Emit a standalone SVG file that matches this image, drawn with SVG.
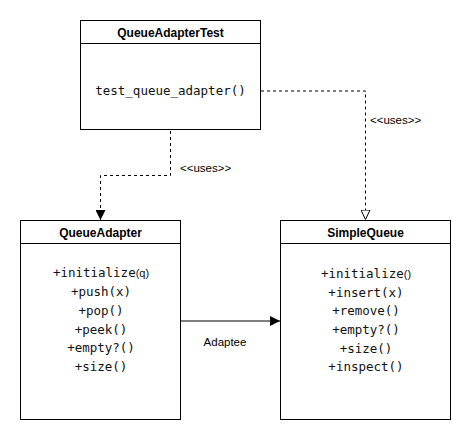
<svg xmlns="http://www.w3.org/2000/svg" width="472" height="442" viewBox="0 0 472 442">
<style>
.box{fill:#fff;stroke:#000;stroke-width:1}
.title{font-family:"Liberation Sans",Arial,sans-serif;font-size:12px;font-weight:bold;text-anchor:middle;fill:#000}
.m{font-family:"DejaVu Sans Mono","Liberation Mono",monospace;font-size:12.5px;text-anchor:middle;fill:#111}
.s{font-family:"Liberation Sans",Arial,sans-serif;font-size:11px}
.lbl{font-family:"Liberation Sans",Arial,sans-serif;font-size:11.5px;fill:#000}
.dash{fill:none;stroke:#000;stroke-width:1;stroke-dasharray:3 3}
.solid{fill:none;stroke:#000;stroke-width:1}
</style>
<defs>
<marker id="fill" viewBox="0 0 10 10" refX="10" refY="5" markerWidth="10" markerHeight="10" markerUnits="userSpaceOnUse" orient="auto"><path d="M0,0 L10,5 L0,10 Z" fill="#000"/></marker>
<marker id="open" viewBox="0 0 10 10" refX="10" refY="5" markerWidth="10" markerHeight="10" markerUnits="userSpaceOnUse" orient="auto"><path d="M0,0.5 L9.5,5 L0,9.5 Z" fill="#fff" stroke="#000"/></marker>
</defs>
<rect width="472" height="442" fill="#fff"/>
<g id="connectors">
<path class="dash" d="M261,91 H365.5 V220" marker-end="url(#open)"/>
<path class="dash" d="M170.5,131 V175.5 H100.5 V220" marker-end="url(#fill)"/>
<path class="solid" d="M181,321 H280" marker-end="url(#fill)"/>
<text class="lbl" x="370" y="124">&lt;&lt;uses&gt;&gt;</text>
<text class="lbl" x="180" y="172">&lt;&lt;uses&gt;&gt;</text>
<text class="lbl" x="225" y="346" text-anchor="middle">Adaptee</text>
</g>
<g id="QueueAdapterTest">
<rect class="box" x="80.5" y="20.5" width="180" height="109"/>
<line class="solid" x1="80.5" y1="43.5" x2="260.5" y2="43.5"/>
<text class="title" x="170.5" y="37">QueueAdapterTest</text>
<text class="m" x="170.5" y="95">test_queue_adapter()</text>
</g>
<g id="QueueAdapter">
<rect class="box" x="20.5" y="220.5" width="160" height="199"/>
<line class="solid" x1="20.5" y1="243.5" x2="180.5" y2="243.5"/>
<text class="title" x="100.5" y="237">QueueAdapter</text>
<text class="m" x="101" y="277">+initialize<tspan class="s">(q)</tspan></text>
<text class="m" x="101" y="296">+push(x)</text>
<text class="m" x="101" y="315">+pop()</text>
<text class="m" x="101" y="334">+peek()</text>
<text class="m" x="101" y="352">+empty?()</text>
<text class="m" x="101" y="371">+size()</text>
</g>
<g id="SimpleQueue">
<rect class="box" x="280.5" y="220.5" width="170" height="199"/>
<line class="solid" x1="280.5" y1="243.5" x2="450.5" y2="243.5"/>
<text class="title" x="365.5" y="237">SimpleQueue</text>
<text class="m" x="366" y="278">+initialize<tspan class="s">()</tspan></text>
<text class="m" x="366" y="297">+insert(x)</text>
<text class="m" x="366" y="315">+remove()</text>
<text class="m" x="366" y="334">+empty?()</text>
<text class="m" x="366" y="353">+size()</text>
<text class="m" x="366" y="371">+inspect()</text>
</g>
</svg>
